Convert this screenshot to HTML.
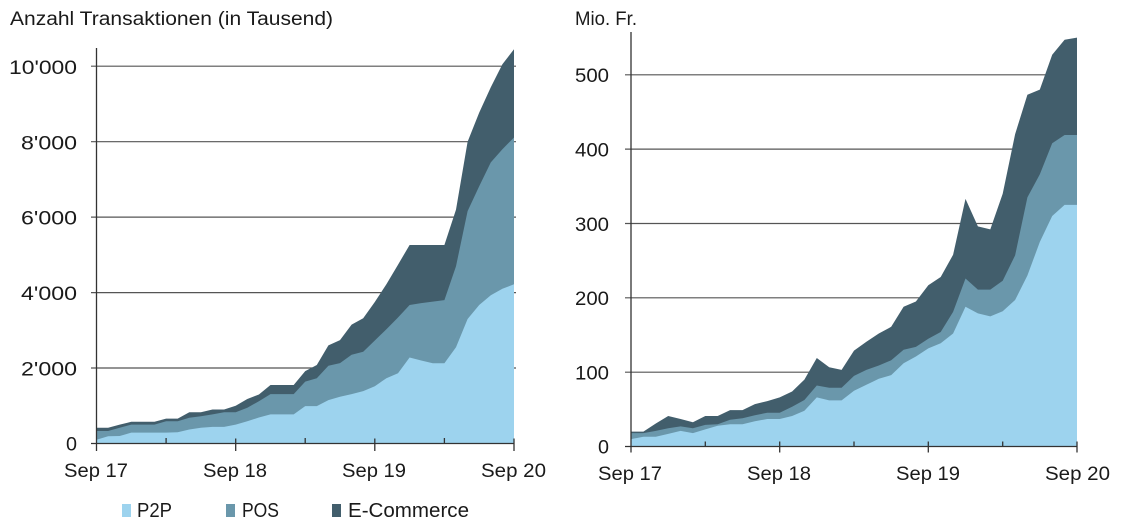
<!DOCTYPE html>
<html><head><meta charset="utf-8"><style>
html,body{margin:0;padding:0;background:#fff;}
svg{display:block;}
text{font-family:"Liberation Sans",Arial,sans-serif;fill:#1a1a1a;}
</style></head><body>
<svg width="1131" height="532" viewBox="0 0 1131 532" xmlns="http://www.w3.org/2000/svg">
<rect width="1131" height="532" fill="#fff"/>
<!-- titles -->
<text x="10" y="25" font-size="19" textLength="323" lengthAdjust="spacingAndGlyphs">Anzahl Transaktionen (in Tausend)</text>
<text x="575" y="25" font-size="19" textLength="62" lengthAdjust="spacingAndGlyphs">Mio. Fr.</text>

<!-- left gridlines -->
<g stroke="#555" stroke-width="1.2">
<line x1="91" y1="66.2" x2="516" y2="66.2"/>
<line x1="91" y1="141.7" x2="516" y2="141.7"/>
<line x1="91" y1="217.1" x2="516" y2="217.1"/>
<line x1="91" y1="292.6" x2="516" y2="292.6"/>
<line x1="91" y1="368" x2="516" y2="368"/>
</g>
<!-- right gridlines -->
<g stroke="#555" stroke-width="1.2">
<line x1="625" y1="74.8" x2="1077" y2="74.8"/>
<line x1="625" y1="149.1" x2="1077" y2="149.1"/>
<line x1="625" y1="223.5" x2="1077" y2="223.5"/>
<line x1="625" y1="297.8" x2="1077" y2="297.8"/>
<line x1="625" y1="372.2" x2="1077" y2="372.2"/>
</g>

<!-- left areas -->
<polygon fill="#425e6c" points="96.5,427.8 108.1,427.8 119.7,424.6 131.3,421.8 142.9,421.8 154.5,421.8 166.1,418.6 177.7,418.6 189.3,412.2 200.9,412.2 212.5,409.5 224.1,409.5 235.7,405.8 247.3,399.0 258.9,394.5 270.5,385.0 282.1,385.0 293.7,385.0 305.2,371.1 316.8,365.0 328.4,345.4 340.0,340.1 351.6,324.6 363.2,318.2 374.8,302.0 386.4,284.3 398.0,264.7 409.6,245.0 421.2,245.0 432.8,245.0 444.4,245.0 456.0,209.6 467.6,141.7 479.2,112.6 490.8,87.3 502.4,64.3 514.0,49.2 514,443.5 96.5,443.5"/>
<polygon fill="#6a97ab" points="96.5,431.0 108.1,431.0 119.7,427.8 131.3,424.6 142.9,424.6 154.5,424.6 166.1,421.2 177.7,421.2 189.3,417.8 200.9,416.3 212.5,414.4 224.1,412.2 235.7,412.2 247.3,407.8 258.9,401.2 270.5,394.1 282.1,394.1 293.7,394.1 305.2,381.6 316.8,378.2 328.4,365.8 340.0,363.1 351.6,354.8 363.2,351.8 374.8,340.5 386.4,329.2 398.0,317.5 409.6,305.0 421.2,303.1 432.8,301.6 444.4,300.1 456.0,266.2 467.6,211.1 479.2,186.2 490.8,162.4 502.4,149.2 514.0,137.5 514,443.5 96.5,443.5"/>
<polygon fill="#9dd3ee" points="96.5,439.7 108.1,436.3 119.7,436.0 131.3,432.6 142.9,432.6 154.5,432.6 166.1,432.6 177.7,432.2 189.3,429.5 200.9,427.7 212.5,426.9 224.1,426.9 235.7,424.6 247.3,421.2 258.9,417.5 270.5,414.4 282.1,414.4 293.7,414.4 305.2,406.1 316.8,406.1 328.4,400.1 340.0,396.7 351.6,394.1 363.2,391.1 374.8,386.2 386.4,378.2 398.0,373.3 409.6,357.5 421.2,360.5 432.8,363.3 444.4,363.3 456.0,347.3 467.6,319.0 479.2,305.0 490.8,295.2 502.4,288.8 514.0,284.3 514,443.5 96.5,443.5"/>

<!-- right areas -->
<polygon fill="#425e6c" points="631.0,431.6 643.4,431.6 655.8,423.5 668.2,416.0 680.6,419.0 692.9,422.3 705.3,416.0 717.7,416.0 730.1,410.1 742.5,410.1 754.9,404.1 767.3,401.1 779.7,397.4 792.1,391.5 804.4,379.6 816.8,358.0 829.2,367.3 841.6,369.9 854.0,350.6 866.4,341.7 878.8,333.5 891.2,326.8 903.6,306.7 915.9,301.5 928.3,285.2 940.7,277.0 953.1,254.7 965.5,198.9 977.9,226.4 990.3,229.4 1002.7,193.7 1015.1,134.2 1027.4,94.8 1039.8,89.6 1052.2,54.7 1064.6,39.8 1077.0,37.6 1077,446.5 631,446.5"/>
<polygon fill="#6a97ab" points="631.0,433.1 643.4,433.1 655.8,430.9 668.2,428.3 680.6,426.4 692.9,428.3 705.3,424.9 717.7,424.2 730.1,419.7 742.5,418.2 754.9,415.3 767.3,412.7 779.7,412.7 792.1,406.7 804.4,400.0 816.8,385.5 829.2,387.8 841.6,387.8 854.0,375.9 866.4,369.9 878.8,365.5 891.2,360.3 903.6,349.8 915.9,346.9 928.3,338.7 940.7,332.0 953.1,311.9 965.5,278.5 977.9,289.6 990.3,289.6 1002.7,280.7 1015.1,255.4 1027.4,197.4 1039.8,174.4 1052.2,143.2 1064.6,135.0 1077.0,135.0 1077,446.5 631,446.5"/>
<polygon fill="#9dd3ee" points="631.0,439.1 643.4,436.8 655.8,436.8 668.2,433.9 680.6,430.9 692.9,433.1 705.3,429.4 717.7,425.7 730.1,424.2 742.5,424.2 754.9,421.2 767.3,419.0 779.7,419.0 792.1,416.0 804.4,410.8 816.8,397.4 829.2,400.4 841.6,400.4 854.0,390.7 866.4,384.8 878.8,378.8 891.2,375.1 903.6,363.2 915.9,356.5 928.3,348.4 940.7,343.2 953.1,333.5 965.5,306.7 977.9,313.4 990.3,316.4 1002.7,311.2 1015.1,300.0 1027.4,275.5 1039.8,242.0 1052.2,216.0 1064.6,204.9 1077.0,204.9 1077,446.5 631,446.5"/>

<!-- left axes -->
<g stroke="#333" stroke-width="1.3" fill="none">
<line x1="96.5" y1="48" x2="96.5" y2="451"/>
<line x1="91" y1="443.5" x2="514" y2="443.5"/>
<line x1="235.7" y1="438.5" x2="235.7" y2="451"/>
<line x1="374.8" y1="438.5" x2="374.8" y2="451"/>
<line x1="514" y1="438.5" x2="514" y2="451"/>
<line x1="166.1" y1="438" x2="166.1" y2="443.5"/>
<line x1="305.2" y1="438" x2="305.2" y2="443.5"/>
<line x1="444.4" y1="438" x2="444.4" y2="443.5"/>
</g>
<!-- right axes -->
<g stroke="#333" stroke-width="1.3" fill="none">
<line x1="631" y1="32" x2="631" y2="452.5"/>
<line x1="625" y1="446.5" x2="1077" y2="446.5"/>
<line x1="779.7" y1="441.5" x2="779.7" y2="452.5"/>
<line x1="928.3" y1="441.5" x2="928.3" y2="452.5"/>
<line x1="1077" y1="441.5" x2="1077" y2="452.5"/>
<line x1="705.3" y1="441.5" x2="705.3" y2="446.5"/>
<line x1="854" y1="441.5" x2="854" y2="446.5"/>
<line x1="1002.7" y1="441.5" x2="1002.7" y2="446.5"/>
</g>

<!-- left y labels -->
<g font-size="19.5">
<text x="9" y="73.8" textLength="68" lengthAdjust="spacingAndGlyphs">10'000</text>
<text x="21" y="149.3" textLength="56" lengthAdjust="spacingAndGlyphs">8'000</text>
<text x="21" y="224.7" textLength="56" lengthAdjust="spacingAndGlyphs">6'000</text>
<text x="21" y="300.2" textLength="56" lengthAdjust="spacingAndGlyphs">4'000</text>
<text x="21" y="375.6" textLength="56" lengthAdjust="spacingAndGlyphs">2'000</text>
<text x="66" y="450.5" textLength="11" lengthAdjust="spacingAndGlyphs">0</text>
</g>
<!-- right y labels -->
<g font-size="19.5">
<text x="575" y="82.2" textLength="34" lengthAdjust="spacingAndGlyphs">500</text>
<text x="575" y="156.5" textLength="34" lengthAdjust="spacingAndGlyphs">400</text>
<text x="575" y="230.9" textLength="34" lengthAdjust="spacingAndGlyphs">300</text>
<text x="575" y="305.2" textLength="34" lengthAdjust="spacingAndGlyphs">200</text>
<text x="575" y="379.6" textLength="34" lengthAdjust="spacingAndGlyphs">100</text>
<text x="598" y="453.5" textLength="11" lengthAdjust="spacingAndGlyphs">0</text>
</g>
<!-- x labels -->
<g font-size="19">
<text x="64" y="477" textLength="64" lengthAdjust="spacingAndGlyphs">Sep 17</text>
<text x="203" y="477" textLength="64" lengthAdjust="spacingAndGlyphs">Sep 18</text>
<text x="342" y="477" textLength="64" lengthAdjust="spacingAndGlyphs">Sep 19</text>
<text x="481" y="477" textLength="65" lengthAdjust="spacingAndGlyphs">Sep 20</text>
<text x="598" y="480" textLength="64" lengthAdjust="spacingAndGlyphs">Sep 17</text>
<text x="747" y="480" textLength="64" lengthAdjust="spacingAndGlyphs">Sep 18</text>
<text x="896" y="480" textLength="64" lengthAdjust="spacingAndGlyphs">Sep 19</text>
<text x="1045" y="480" textLength="65" lengthAdjust="spacingAndGlyphs">Sep 20</text>
</g>

<!-- legend -->
<rect x="122" y="504" width="9" height="13" fill="#9dd3ee"/>
<rect x="226" y="504" width="9" height="13" fill="#6a97ab"/>
<rect x="332" y="504" width="9" height="13" fill="#425e6c"/>
<g font-size="20">
<text x="137" y="517" textLength="35" lengthAdjust="spacingAndGlyphs">P2P</text>
<text x="242" y="517" textLength="37" lengthAdjust="spacingAndGlyphs">POS</text>
<text x="348" y="517" textLength="121" lengthAdjust="spacingAndGlyphs">E-Commerce</text>
</g>
</svg>
</body></html>
